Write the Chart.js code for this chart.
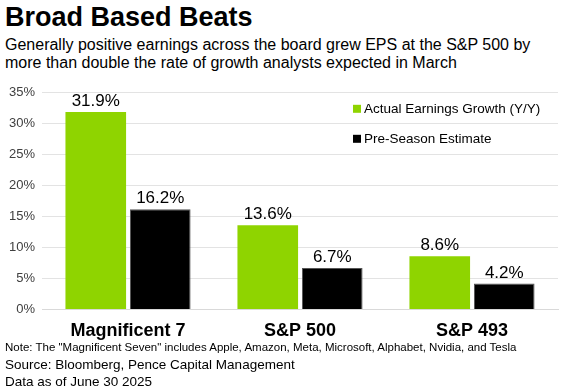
<!DOCTYPE html>
<html>
<head>
<meta charset="utf-8">
<script src="https://cdn.jsdelivr.net/npm/chart.js@4/dist/chart.umd.min.js"></script>
<style>
  body { margin: 0; width: 562px; height: 386px; background: #fff; font-family: "Liberation Sans", Arial, sans-serif; position: relative; overflow: hidden; }
  .title { position: absolute; left: 5px; top: 2px; font-size: 27px; font-weight: bold; color: #000; }
  .sub { position: absolute; left: 5px; top: 36px; font-size: 16px; line-height: 18px; color: #000; }
  .wrap { position: absolute; left: 0; top: 78px; width: 562px; height: 267px; }
  .note { position: absolute; left: 5px; top: 341px; font-size: 11.5px; color: #000; }
  .src { position: absolute; left: 5px; top: 356px; font-size: 13.5px; line-height: 17px; color: #000; }
</style>
</head>
<body>
<div class="title">Broad Based Beats</div>
<div class="sub">Generally positive earnings across the board grew EPS at the S&amp;P 500 by<br>more than double the rate of growth analysts expected in March</div>
<div class="wrap"><canvas id="chart"></canvas></div>
<div class="note">Note: The "Magnificent Seven" includes Apple, Amazon, Meta, Microsoft, Alphabet, Nvidia, and Tesla</div>
<div class="src">Source: Bloomberg, Pence Capital Management<br>Data as of June 30 2025</div>
<script>
var categories = ["Magnificent 7", "S&P 500", "S&P 493"];
var actualGrowth = [31.9, 13.6, 8.6];
var preSeason = [16.2, 6.7, 4.2];
var yTicks = [0, 5, 10, 15, 20, 25, 30, 35];

// labels on top of bars
var valueLabels = {
  id: 'valueLabels',
  afterDatasetsDraw: function(chart) {
    var ctx = chart.ctx;
    ctx.save();
    ctx.font = '17px "Liberation Sans", Arial, sans-serif';
    ctx.fillStyle = '#000';
    ctx.textAlign = 'center';
    ctx.textBaseline = 'bottom';
    chart.data.datasets.forEach(function(ds, i) {
      chart.getDatasetMeta(i).data.forEach(function(bar, j) {
        ctx.fillText(ds.data[j].toFixed(1) + '%', bar.x, bar.y - 2);
      });
    });
    ctx.restore();
  }
};

// legend inside the plot, top right
var innerLegend = {
  id: 'innerLegend',
  afterDraw: function(chart) {
    var ctx = chart.ctx;
    ctx.save();
    ctx.font = '13.5px "Liberation Sans", Arial, sans-serif';
    ctx.textBaseline = 'middle';
    chart.data.datasets.forEach(function(ds, i) {
      var y = chart.chartArea.top + 16 + i * 30;
      ctx.fillStyle = ds.backgroundColor;
      ctx.fillRect(353, y - 4, 8, 8);
      ctx.fillStyle = '#000';
      ctx.fillText(ds.label, 364, y);
    });
    ctx.restore();
  }
};

new Chart(document.getElementById('chart'), {
  type: 'bar',
  data: {
    labels: categories,
    datasets: [{
      label: 'Actual Earnings Growth (Y/Y)',
      data: actualGrowth,
      backgroundColor: '#8FD400',
      barPercentage: 0.94,
      categoryPercentage: 0.75
    }, {
      label: 'Pre-Season Estimate',
      data: preSeason,
      backgroundColor: '#000000',
      borderColor: '#555',
      borderWidth: 1,
      barPercentage: 0.94,
      categoryPercentage: 0.75
    }]
  },
  options: {
    responsive: true,
    maintainAspectRatio: false,
    animation: false,
    layout: { padding: { top: 12, right: 4, left: 2, bottom: 0 } },
    plugins: {
      legend: { display: false },
      tooltip: { enabled: false }
    },
    scales: {
      x: {
        grid: { display: false },
        border: { color: '#d9d9d9' },
        ticks: { color: '#000', padding: 3, font: { family: '"Liberation Sans", Arial, sans-serif', size: 18, weight: 'bold' } }
      },
      y: {
        min: 0,
        max: 35,
        afterBuildTicks: function(axis) {
          axis.ticks = yTicks.map(function(v) { return { value: v }; });
        },
        grid: { color: '#e3e3e3', drawTicks: false },
        border: { display: false },
        ticks: {
          color: '#404040',
          padding: 7,
          font: { family: '"Liberation Sans", Arial, sans-serif', size: 13 },
          callback: function(v) { return v + '%'; }
        }
      }
    }
  },
  plugins: [valueLabels, innerLegend]
});
</script>
</body>
</html>
